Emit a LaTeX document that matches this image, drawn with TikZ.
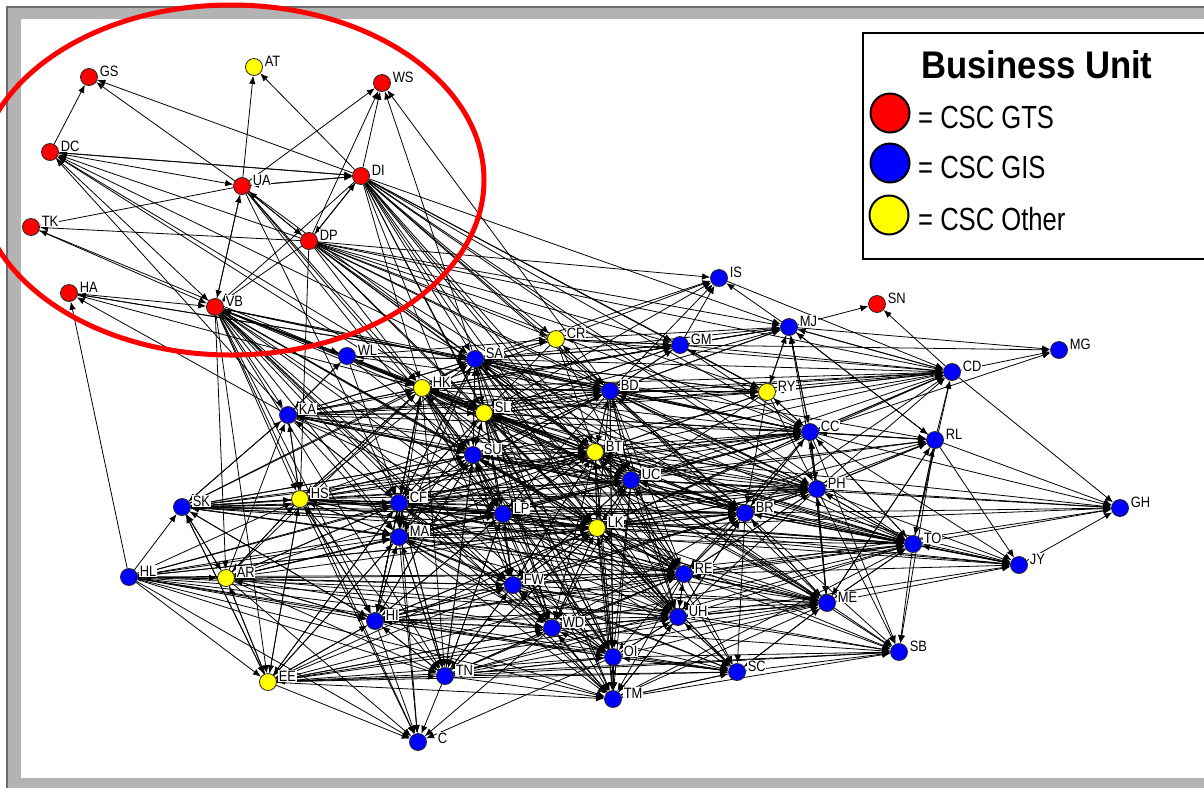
\documentclass[tikz,border=0pt]{standalone}
\usepackage{fontspec}
\setmainfont{Liberation Sans}
\newfontfamily\lblfont[FakeStretch=0.86]{Liberation Sans}
\newfontfamily\legfont[FakeStretch=0.8]{Liberation Sans}
\newfontfamily\legtitlefont[FakeStretch=0.9]{Liberation Sans}
\usetikzlibrary{arrows.meta}

\definecolor{framegray}{HTML}{B3B3B3}
\definecolor{framedark}{HTML}{6B6B6B}
\definecolor{gts}{HTML}{FF0000}
\definecolor{gis}{HTML}{0000FF}
\definecolor{other}{HTML}{FFFF00}

\pgfdeclarelayer{bg}
\pgfdeclarelayer{edges}
\pgfsetlayers{bg,edges,main}

% a person: coloured disc plus its initials above right
\newcommand\netnode[4]{%
  \node[person, fill=#1] (#2) at (#3) {};
  \node[lbl] at ([shift={(10pt,6pt)}]#2.center) {#4};}

\begin{document}
\begin{tikzpicture}[x=1pt, y=-1pt,
  person/.style={circle, draw=black!85, line width=0.8pt, minimum size=17pt, inner sep=0pt},
  lbl/.style={anchor=west, fill=white, inner sep=0.6pt, font=\lblfont\fontsize{15}{16}\selectfont},
  edge/.style={draw=black, line width=0.8pt, -{Latex[length=8pt,width=6.5pt]}},
  keydot/.style={circle, draw=black, line width=2pt, minimum size=39pt, inner sep=0pt},
  legtext/.style={anchor=base west, inner sep=0pt, font=\legfont\fontsize{32}{36}\selectfont},
]
\useasboundingbox (0,0) rectangle (1204,788);

% window frame
\begin{pgfonlayer}{bg}
  \fill[white] (0,0) rectangle (1204,788);
  \fill[framegray] (7,7) rectangle (1204,788);
  \fill[white] (21,19) rectangle (1204,778);
  \draw[framedark, line width=1.3pt] (7,788) -- (7,7) -- (1204,7);
\end{pgfonlayer}

% CSC GTS
\netnode{gts}{GS}{89,77}{GS}
\netnode{gts}{WS}{382,83}{WS}
\netnode{gts}{DC}{50,152}{DC}
\netnode{gts}{UA}{242,186}{UA}
\netnode{gts}{DI}{361,176}{DI}
\netnode{gts}{TK}{31,227}{TK}
\netnode{gts}{DP}{309,241}{DP}
\netnode{gts}{HA}{69,293}{HA}
\netnode{gts}{VB}{215,307}{VB}
\netnode{gts}{SN}{877,304}{SN}

% CSC Other
\netnode{other}{AT}{254,67}{AT}
\netnode{other}{CR}{556,339}{CR}
\netnode{other}{HK}{422,388}{HK}
\netnode{other}{SL}{484,413}{SL}
\netnode{other}{RY}{767,392}{RY}
\netnode{other}{BT}{595,452}{BT}
\netnode{other}{HS}{300,499}{HS}
\netnode{other}{LK}{597,528}{LK}
\netnode{other}{AR}{226,578}{AR}
\netnode{other}{EE}{268,682}{EE}

% CSC GIS
\netnode{gis}{IS}{719,278}{IS}
\netnode{gis}{MJ}{789,327}{MJ}
\netnode{gis}{GM}{680,345}{GM}
\netnode{gis}{MG}{1059,350}{MG}
\netnode{gis}{WL}{347,356}{WL}
\netnode{gis}{SA}{475,359}{SA}
\netnode{gis}{CD}{952,372}{CD}
\netnode{gis}{BD}{610,391}{BD}
\netnode{gis}{KA}{288,415}{KA}
\netnode{gis}{CC}{810,432}{CC}
\netnode{gis}{RL}{935,440}{RL}
\netnode{gis}{SU}{473,455}{SU}
\netnode{gis}{UC}{631,480}{UC}
\netnode{gis}{PH}{817,489}{PH}
\netnode{gis}{SK}{182,507}{SK}
\netnode{gis}{CF}{399,503}{CF}
\netnode{gis}{GH}{1120,508}{GH}
\netnode{gis}{LP}{503,514}{LP}
\netnode{gis}{BR}{745,513}{BR}
\netnode{gis}{MA}{399,537}{MA}
\netnode{gis}{TO}{913,544}{TO}
\netnode{gis}{JY}{1019,565}{JY}
\netnode{gis}{HL}{129,577}{HL}
\netnode{gis}{FW}{513,585}{FW}
\netnode{gis}{RE}{684,574}{RE}
\netnode{gis}{ME}{827,603}{ME}
\netnode{gis}{HI}{375,621}{HI}
\netnode{gis}{UH}{678,617}{UH}
\netnode{gis}{WD}{552,628}{WD}
\netnode{gis}{SB}{899,652}{SB}
\netnode{gis}{OI}{613,657}{OI}
\netnode{gis}{SC}{737,672}{SC}
\netnode{gis}{TN}{445,676}{TN}
\netnode{gis}{TM}{613,699}{TM}
\node[person, fill=gis] (LC) at (418,742) {};
\node[lbl] at ([shift={(19pt,4pt)}]LC.center) {C};

% directed ties: source / its targets
\begin{pgfonlayer}{edges}
\foreach \src/\dsts in {
  DC/{GS,UA,DI,VB},
  UA/{AT,GS,WS,DI,DP,VB,TK,SA,HK,SU,CF,LP},
  DI/{AT,GS,WS,UA,DP,VB,DC,SA,SL,BD,BT,UC,CR,GM,LK,CC,HK,SU,MJ,RY,PH,BR,RE,UH,TO,OI},
  DP/{WS,TK,VB,DC,UA,DI,SA,HK,SL,BD,CR,GM,MJ,CD,CC,IS,HS,LK,BT,UC,BR,PH,RY},
  VB/{UA,HK,SA,SL,SU,CF,MA,HS,KA,BD,BT,LP,HI,FW,LK,CC,WL,AR,EE,UC,RE,UH,OI,TN,WD,TM,LC},
  TK/{VB},
  HA/{VB,SA,HK},
  WL/{VB,SA,HK,KA,CR,BD,CF,SL,SU,BT,UC},
  SA/{DC,HA,WS,IS,CR,HK,SL,SU,BD,BT,UC,CF,MA,LP,LK,GM,MJ,CD,CC,RY,BR,PH,RE,FW,TM,KA,WL,TO,ME,RL,UH,OI,WD},
  HK/{DC,TK,SA,SL,SU,BD,BT,CF,MA,LP,LK,HS,KA,CC,RY,UC,HI,FW,WD,OI,TN,GM,CD,WL,PH,BR,RE,UH,TO,ME,MJ},
  SL/{DC,SA,HK,SU,BD,BT,UC,CF,LP,LK,BR,CC,PH,RE,UH,CD,MJ,GM,IS,WD,OI,TO,ME,RL,TM,SC,KA,MA},
  BD/{SA,HK,SL,BT,UC,LK,CC,RY,PH,BR,RE,UH,ME,TO,CD,MJ,GM,IS,CR,OI,TM,WS,SU,LP,CF},
  CR/{IS,SA,GM,BD,MJ,CD,HK,SL,UC,BT},
  GM/{IS,MG,MJ,CD,SA,BD,CR,RY,CC,HK,SL},
  MJ/{IS,SN,MG,CD,GM,RY,CC,RL,BD},
  IS/{CD},
  RY/{MJ,CD,CC,GM,BD,PH,BR,SA,HK,SL,UC,BT},
  CD/{SN,MG,GH,CC,RY,MJ},
  CC/{MJ,CD,MG,RL,GH,PH,BR,TO,JY,ME,RY,BD,SA,UC,BT,SB,LK,RE},
  RL/{CD,TO,JY,SB,GH,CC,PH,ME,MJ},
  PH/{CC,RL,GH,TO,JY,SB,ME,BR,UH,RE,CD,MJ,BD,UC,LK},
  BR/{CC,PH,RL,TO,JY,ME,SB,RE,UH,UC,LK,BT,CD,GH,BD,SC},
  TO/{RL,JY,GH,SB,ME,PH,CC,CD,BR},
  JY/{TO,GH},
  ME/{SB,TO,JY,RL,CC,PH,BR,RE,UH,SC},
  UC/{BT,LK,BD,SL,SU,LP,CC,PH,BR,RE,UH,OI,TM,WD,FW,CD,TO,ME,JY,SB,GH,RL,CF,MA},
  BT/{UC,LK,BD,SL,SU,LP,CF,HK,SA,CC,BR,RE,UH,FW,WD,OI,TM,CD,RY,PH,TO,ME,JY,SC,GH,MA,HS},
  SU/{SA,HK,SL,BT,UC,CF,MA,LP,LK,FW,WD,HI,TN,KA,HS,OI,BD,CC,PH,BR,RE,UH,TO,CD,SK},
  LK/{BT,UC,LP,SU,BR,RE,UH,FW,WD,OI,TM,SC,ME,TO,CC,PH,HI,TN,MA,CF,JY,SB,RL,CD,GH,HS},
  LP/{SU,CF,MA,LK,BT,UC,FW,WD,HI,TN,RE,UH,BR,OI,TM,HS,CC,PH,ME,TO,SC,SK},
  CF/{HS,SK,KA,MA,LP,SU,HK,SA,SL,BT,UC,LK,HI,TN,LC,FW,WD,AR,EE,BR,CC,PH,TO,ME,RL,JY,RE,UH,OI,TM,BD},
  MA/{CF,HS,SK,AR,HI,TN,LC,EE,LP,FW,WD,LK,SU,BT,UC,RE,UH,TM,ME,TO,BR,PH,CC,OI,SC},
  HS/{SK,KA,AR,HI,EE,CF,MA,HK,SA,SU,LP,TN,LC,CC,TO,BR,PH,BD,UC,BT,LK,RE,ME},
  KA/{DC,HA,HK,SA,WL,HS,SK,CF,SU,SL,BD,BT,UC,CC,RY,CD,GM,LK,PH,BR,TO,MA,LP},
  SK/{HS,KA,AR,EE,HI,CF,MA,HK,SA,SU,LP,TO,JY,BR,CC,LK,BT,UC,RE,PH},
  HL/{HA,SK,AR,EE,HI,LC,HS,CF,MA,TN,FW,LP,WD,LK,RE,ME,BR,UH,OI,TM,SC,BT},
  AR/{HS,SK,CF,MA,EE,HI,TN,LC,KA,HK,LK,BT,RE,UH,FW,WD,LP},
  EE/{LC,AR,HI,TN,HS,SK,CF,MA,FW,WD,TM,OI,LK,UH,RE,SC,ME,SB},
  HI/{LC,TN,EE,AR,HS,CF,MA,FW,WD,LP,SU,LK,OI,TM,SK,HK,RE,UH,BR,ME,SC,TO},
  TN/{LC,HI,EE,FW,WD,TM,OI,LK,CF,MA,SU,LP,SC,RE,UH,ME,SB,TO},
  FW/{WD,OI,TM,TN,HI,LK,LP,CF,MA,SU,BT,UC,RE,UH,SC,ME,SB,TO,BR,PH},
  WD/{OI,TM,FW,TN,LC,HI,UH,RE,LK,SC,EE,ME,SB,TO,BR},
  OI/{TM,WD,UH,SC,LK,FW,TN,LC,ME,SB},
  TM/{OI,WD,SC,UH,ME,SB,TO},
  RE/{UH,SC,ME,BR,PH,TO,LK,UC,BT,OI,TM,WD,FW,SB,GH,JY},
  UH/{RE,SC,OI,TM,WD,ME,SB,TO,BR,LK,JY},
  SC/{TM,OI,UH,ME,SB}%
}{\foreach \dst in \dsts {\draw[edge] (\src) -- (\dst);}}
\end{pgfonlayer}

% highlighted group
\draw[red, line width=5pt] (231,180) ellipse [x radius=253pt, y radius=175pt];

% legend
\draw[black, line width=2.2pt, fill=white] (863,33) rectangle (1212,259);
\node[anchor=base, inner sep=0pt, font=\legtitlefont\bfseries\fontsize{38.5}{40}\selectfont]
  (legtitle) at (1037,78) {Business Unit};
\node[keydot, fill=gts]   (kgts)   at (890,113) {};
\node[keydot, fill=gis]   (kgis)   at (890,163) {};
\node[keydot, fill=other] (kother) at (889,215) {};
\node[legtext] (tgts)   at (918,128) {= CSC GTS};
\node[legtext] (tgis)   at (918,178) {= CSC GIS};
\node[legtext] (tother) at (918,230) {= CSC Other};
\end{tikzpicture}
\end{document}
